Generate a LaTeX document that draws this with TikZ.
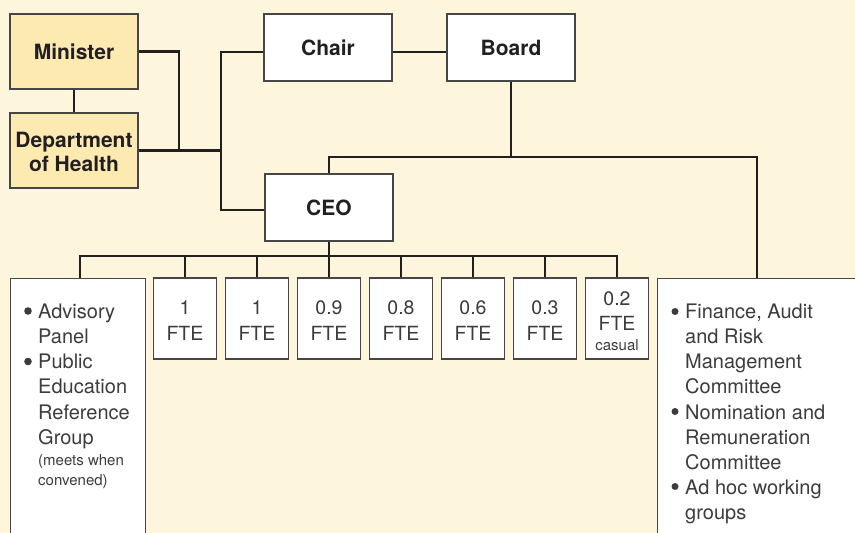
\documentclass[tikz,border=0pt]{standalone}
\usepackage{fontspec}
\setmainfont{TeX Gyre Heros}
\usetikzlibrary{calc}
\definecolor{bgcream}{RGB}{254,245,221}
\definecolor{boxyel}{RGB}{252,234,176}
\definecolor{linedark}{RGB}{35,31,32}
\definecolor{borderg}{RGB}{70,70,70}
\definecolor{txtdark}{RGB}{35,31,32}
\definecolor{txtgray}{RGB}{60,60,60}
\begin{document}
\begin{tikzpicture}[x=1pt,y=-1pt,
 boxbase/.style={draw=borderg, line width=1.2pt, inner sep=0pt, minimum width=128pt, minimum height=75pt},
 yelbox/.style={boxbase, fill=boxyel},
 whitebox/.style={boxbase, fill=white, minimum height=67pt},
 ftebox/.style={draw=borderg, line width=1.2pt, fill=white, inner sep=0pt, minimum width=63pt, minimum height=81pt},
 listbox/.style={draw=borderg, line width=1.2pt, fill=white, inner sep=0pt, minimum height=270pt, anchor=north west},
 boldlbl/.style={font=\fontsize{21}{24}\selectfont\bfseries, text=txtdark, align=center},
 ftetxt/.style={font=\fontsize{19.5}{24}\selectfont, text=txtgray, inner sep=0pt, anchor=base},
 smalltxt/.style={font=\fontsize{15}{18}\selectfont, text=txtgray, inner sep=0pt, anchor=base},
 listtxt/.style={font=\fontsize{20}{25.2}\selectfont, text=txtgray, inner sep=0pt, anchor=base west},
 bulletdot/.style={fill=txtgray},
 conn/.style={draw=linedark, line width=2.9pt},
]
\clip (0,0) rectangle (855,533);
\fill[bgcream] (0,0) rectangle (855,533);

% top boxes
\node[yelbox, boldlbl] (minister) at (74,51.5) {Minister};
\node[yelbox, boldlbl] (dept) at (74,150.5) {\rule{0pt}{19pt}Department\\of Health};
\node[whitebox, boldlbl] (chair) at (328,47.5) {Chair};
\node[whitebox, boldlbl] (board) at (511,47.5) {Board};
\node[whitebox, boldlbl] (ceo) at (329,207.5) {CEO};

% list boxes
\node[listbox, minimum width=135pt] (adv) at (10,278) {};
\node[listbox, minimum width=210pt] (comm) at (657,278) {};

% FTE boxes
\node[ftebox] (f1) at (185,318.5) {};
\node[ftebox] (f2) at (257,318.5) {};
\node[ftebox] (f3) at (329,318.5) {};
\node[ftebox] (f4) at (401,318.5) {};
\node[ftebox] (f5) at (473,318.5) {};
\node[ftebox] (f6) at (545,318.5) {};
\node[ftebox] (f7) at (617,318.5) {};

\node[ftetxt] (f1a) at (185,314.3) {1};
\node[ftetxt] (f1b) at (185,340.7) {FTE};
\node[ftetxt] (f2a) at (257,314.3) {1};
\node[ftetxt] (f2b) at (257,340.7) {FTE};
\node[ftetxt] (f3a) at (329,314.3) {0.9};
\node[ftetxt] (f3b) at (329,340.7) {FTE};
\node[ftetxt] (f4a) at (401,314.3) {0.8};
\node[ftetxt] (f4b) at (401,340.7) {FTE};
\node[ftetxt] (f5a) at (473,314.3) {0.6};
\node[ftetxt] (f5b) at (473,340.7) {FTE};
\node[ftetxt] (f6a) at (545,314.3) {0.3};
\node[ftetxt] (f6b) at (545,340.7) {FTE};
\node[ftetxt] (f7a) at (617,305) {0.2};
\node[ftetxt] (f7b) at (617,330) {FTE};
\node[smalltxt] (f7c) at (617,350) {casual};

% list texts
\node[listtxt] (advlist) at (38,318.3) {\begin{tabular}[t]{@{}l@{}}
Advisory\\
Panel\\
Public\\
Education\\
Reference\\
Group\\[-3.6pt]
\fontsize{15}{18}\selectfont(meets when\\[-5.3pt]
\fontsize{15}{18}\selectfont convened)
\end{tabular}};
\node[listtxt] (commlist) at (685,318.3) {\begin{tabular}[t]{@{}l@{}}
Finance, Audit\\
and Risk\\
Management\\
Committee\\
Nomination and\\
Remuneration\\
Committee\\
Ad hoc working\\
groups
\end{tabular}};

% bullets
\fill[bulletdot] (28,311) circle (3.8pt);
\fill[bulletdot] (28,361.5) circle (3.8pt);
\fill[bulletdot] (675,311.5) circle (3.5pt);
\fill[bulletdot] (675,411.5) circle (3.5pt);
\fill[bulletdot] (675,486.5) circle (3.5pt);

% connectors
\coordinate (tr) at (221,52);
\coordinate (mx) at (179,52);
\coordinate (top2) at (329,157);
\coordinate (bus) at (329,256);

\draw[conn] (minister.south) -- (dept.north);
\draw[conn] (minister.east) -| (mx |- dept.east);
\draw[conn] (dept.east) -- (dept.east -| tr);
\draw[conn] ([yshift=-4.5pt]chair.west) -- (tr) |- ([yshift=-2.5pt]ceo.west);
\draw[conn] ([yshift=-4.5pt]chair.east) -- ([yshift=-4.5pt]board.west);
\draw[conn] (board.south) -- (board.south |- top2);
\draw[conn] (ceo.north) |- ([xshift=100pt]comm.north west |- top2) -- ([xshift=100pt]comm.north west);
\draw[conn] (ceo.south) -- (ceo.south |- bus);
\draw[conn] ([xshift=70pt]adv.north west) |- (f7.north |- bus) -- (f7.north);
\foreach \k in {f1,f2,f3,f4,f5,f6}{
  \draw[conn] (\k.north) -- (\k.north |- bus);
}
\end{tikzpicture}
\end{document}
